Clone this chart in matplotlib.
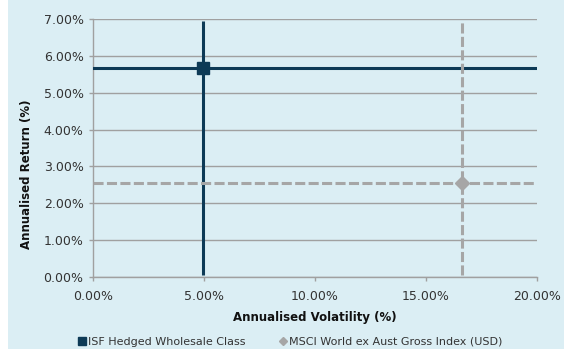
import matplotlib
matplotlib.use("Agg")
import matplotlib.pyplot as plt
from matplotlib.patches import Rectangle
from matplotlib.lines import Line2D
from matplotlib.ticker import FuncFormatter, MultipleLocator

plt.rcParams['font.family'] = ['DejaVu Sans']

series_names = ["ISF Hedged Wholesale Class", "MSCI World ex Aust Gross Index (USD)"]
volatility = [4.96, 16.63]   # annualised volatility, %
returns = [5.67, 2.54]       # annualised return, %
colors = ["#0d3a56", "#a6a6a6"]
markers = ["s", "D"]
styles = ["-", "--"]

W, H = 564, 349
fig = plt.figure(figsize=(W / 100, H / 100), dpi=100, facecolor="white")
bg = "#dbeef4"
panel = Rectangle((8 / W, 0), 1 - 8 / W, 1, transform=fig.transFigure,
                  facecolor=bg, edgecolor="none", zorder=-10)
fig.add_artist(panel)

left, right, top, bottom = 93.3, 536.7, 18.7, 277.3
ax = fig.add_axes([left / W, 1 - bottom / H, (right - left) / W, (bottom - top) / H])
ax.set_facecolor(bg)
ax.set_xlim(0, 20)
ax.set_ylim(0, 7)
ax.xaxis.set_major_locator(MultipleLocator(5))
ax.yaxis.set_major_locator(MultipleLocator(1))
pct = FuncFormatter(lambda v, p: f"{v:.2f}%")
ax.xaxis.set_major_formatter(pct)
ax.yaxis.set_major_formatter(pct)
ax.grid(axis="y", color="#a0a0a0", linewidth=1.0)
ax.set_axisbelow(True)
for s in ["top", "right"]:
    ax.spines[s].set_visible(False)
for s in ["left", "bottom"]:
    ax.spines[s].set_color("#a0a0a0")
    ax.spines[s].set_linewidth(1.0)
ax.tick_params(axis="both", colors="#a0a0a0", labelcolor="#333333", labelsize=9,
               length=3, width=1.0)
ax.tick_params(axis="x", pad=6)
ax.tick_params(axis="y", pad=4)

for x, y, c, m, ls in zip(volatility, returns, colors, markers, styles):
    dash = dict(dashes=(3.3, 1.1)) if ls == "--" else {}
    ax.axhline(y, color=c, linewidth=2.2, linestyle=ls, zorder=3, **dash)
    ax.plot([x, x], [0.05, 6.95], color=c, linewidth=2.2, linestyle=ls, zorder=3,
            solid_capstyle="butt", **dash)
    ax.plot([x], [y], marker=m, color=c, markersize=8.5 if m == "s" else 7.5,
            linestyle="none", zorder=4)

ax.set_xlabel("Annualised Volatility (%)", fontsize=8.5, fontweight="bold", color="#111111",
              labelpad=6)
ax.set_ylabel("Annualised Return (%)", fontsize=8.5, fontweight="bold", color="#111111")
ax.yaxis.set_label_coords(27 / W, 0.5, transform=fig.transFigure)
ax.yaxis.label.set_va("center")

handles = [Line2D([], [], marker=m, color=c, linestyle="none",
                  markersize=6 if m == "s" else 4)
           for c, m in zip(colors, markers)]
fig.legend(handles, series_names, loc="center", bbox_to_anchor=(290 / W, 1 - 342 / H),
           ncol=2, frameon=False, fontsize=8, handletextpad=0.1, columnspacing=3.0,
           handlelength=0.8, labelcolor="#333333")

fig.savefig("out.png", dpi=100, facecolor="white")
